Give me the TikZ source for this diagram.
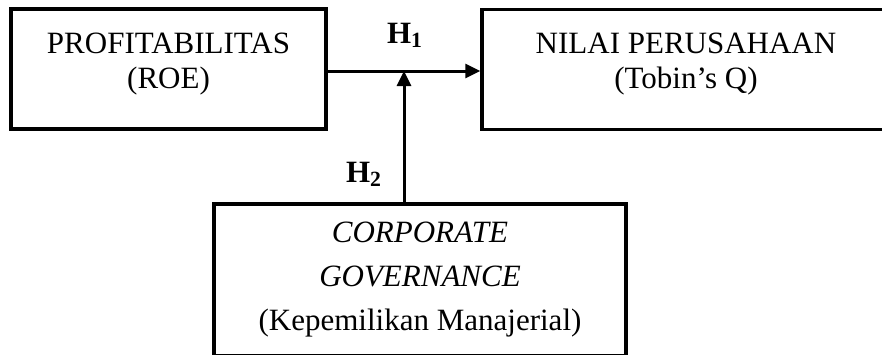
\documentclass[tikz,border=0pt]{standalone}
\usepackage{fontspec}
\setmainfont{Liberation Serif}
\usetikzlibrary{arrows.meta}

\begin{document}
\begin{tikzpicture}[
      x=0.5pt, y=-0.5pt,
      every node/.style={font=\fontsize{15.5}{17.5}\selectfont},
      var/.style={draw, line width=1.75pt, align=center, inner sep=0pt},
      vartext/.style={align=center, yshift=2.5pt},
      hyp/.style={anchor=base, font=\fontsize{15.5}{17.5}\selectfont\bfseries},
      link/.style={line width=1.5pt, -{Triangle[length=7.5pt, width=7pt]}},
    ]
    \useasboundingbox (0,0) rectangle (882,354);
    \clip (0,0) rectangle (882,354);

    \node[var, minimum width=157.5pt, minimum height=60pt,
      label={[vartext, name=proft]center:PROFITABILITAS\\(ROE)}] (prof) at (168.5, 69) {};
    \node[var, minimum width=204pt, minimum height=60pt,
      label={[vartext, name=nilait]center:NILAI PERUSAHAAN\\(Tobin’s Q)}] (nilai) at (686, 69.5) {};
    \node[var, minimum width=206pt, minimum height=76pt] (cg) at (420, 280)
      {\textit{CORPORATE}\\[4.5pt]\textit{GOVERNANCE}\\[4.5pt](Kepemilikan Manajerial)};

    \coordinate (mod) at (404, 71);
    \draw[link] (prof.east |- mod) -- (nilai.west |- mod);
    \draw[link] (cg.north -| mod) -- (mod);

    \node[hyp] (h1) at (405, 43) {H\textsubscript{1}};
    \node[hyp] (h2) at (364, 182) {H\textsubscript{2}};
  \end{tikzpicture}
\end{document}
